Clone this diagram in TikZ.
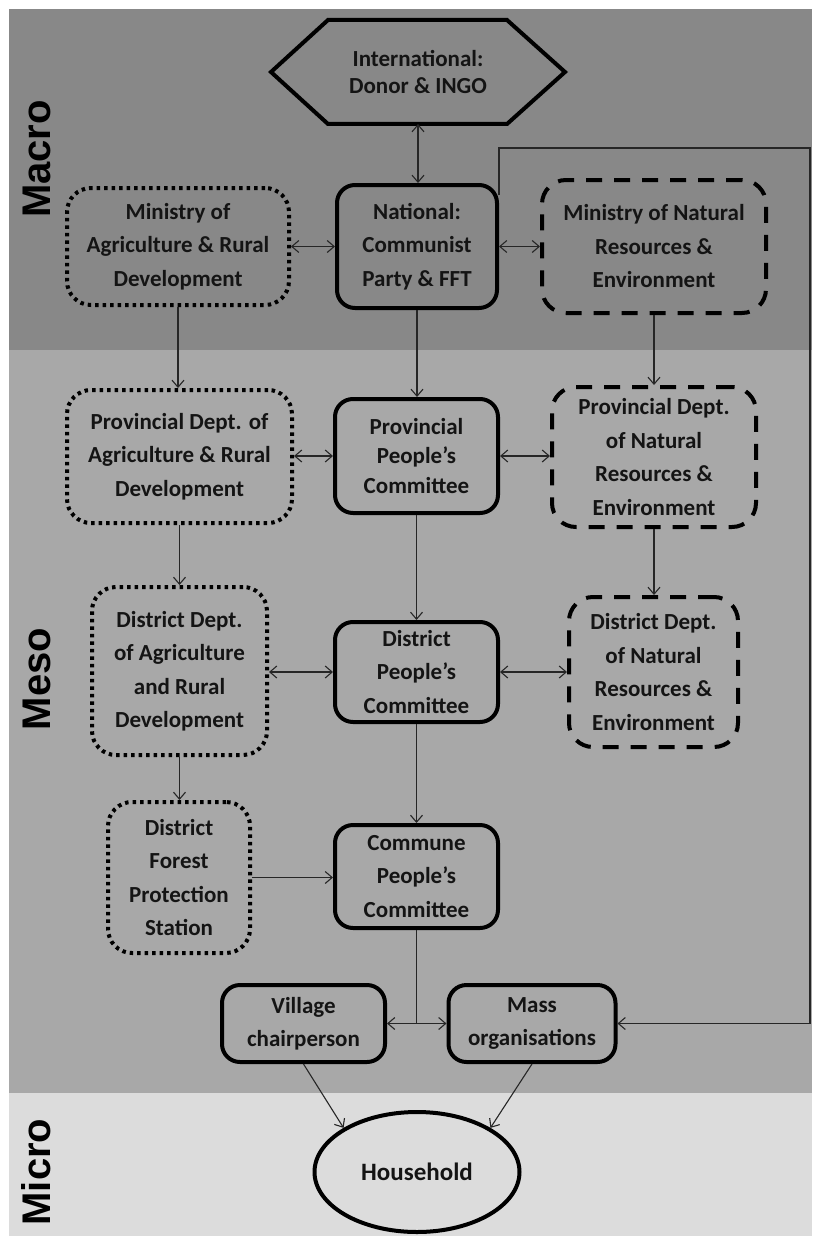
\documentclass[tikz,border=0pt]{standalone}
\usepackage{fontspec}
\setmainfont{Carlito}
\newfontfamily\labfont{Liberation Sans}
\usetikzlibrary{arrows.meta,calc,shapes.geometric}
\definecolor{macrobg}{RGB}{136,136,136}
\definecolor{mesobg}{RGB}{168,168,168}
\definecolor{microbg}{RGB}{220,220,220}
\definecolor{ink}{RGB}{20,20,20}
\begin{document}
\begin{tikzpicture}[x=1pt,y=-1pt,
  conn/.style={draw=black!85, line width=1.1pt},
  arr/.style={conn,-{Straight Barb[length=7pt,width=12pt]}},
  darr/.style={conn,{Straight Barb[length=7pt,width=12pt]}-{Straight Barb[length=7pt,width=12pt]}},
  box/.style={draw=black, line width=4pt, rounded corners=18pt, align=center, inner sep=0pt,
    text=ink, font=\bfseries\fontsize{23}{33.5}\selectfont},
  dotbox/.style={box, dash pattern=on 3.5pt off 4pt, rounded corners=24pt},
  dashbox/.style={box, dash pattern=on 16pt off 12pt, rounded corners=24pt},
  lvl/.style={rotate=90, anchor=base, text=black, font=\labfont\bfseries\fontsize{40}{40}\selectfont},
]
% background bands
\fill[white] (0,0) rectangle (812,1236);
\fill[macrobg] (9,9) rectangle (812,350);
\fill[mesobg] (9,350) rectangle (812,1093);
\fill[microbg] (9,1093) rectangle (812,1236);
\useasboundingbox (0,0) rectangle (812,1236);

% level labels
\node[lvl] (lmacro) at (50,159) {Macro};
\node[lvl] (lmeso) at (50,679) {Meso};
\node[lvl] (lmicro) at (50,1172) {Micro};

% international hexagon
\node[box, draw=none, minimum width=290pt, minimum height=100pt,
  font=\bfseries\fontsize{23}{27}\selectfont] (intl) at (418,72) {International:\\Donor \& INGO};
\draw[line width=4pt, line join=miter]
  (intl.west) -- ($(intl.north west)+(57,0)$) -- ($(intl.north east)+(-58,0)$)
  -- (intl.east) -- ($(intl.south east)+(-58,0)$) -- ($(intl.south west)+(57,0)$) -- cycle;

% macro level
\node[box, minimum width=160pt, minimum height=123pt] (nat) at (417,246.5) {National:\\Communist\\Party \& FFT};
\node[dotbox, minimum width=222pt, minimum height=117pt] (moa) at (178,246.5) {Ministry of\\Agriculture \& Rural\\Development};
\node[dashbox, minimum width=224pt, minimum height=133pt] (monre) at (654,246.5) {Ministry of Natural\\Resources \&\\Environment};

% provincial
\node[dotbox, minimum width=225pt, minimum height=133pt] (pagr) at (179.5,456.5) {Provincial Dept. of\\Agriculture \& Rural\\Development};
\node[box, minimum width=163pt, minimum height=114pt, font=\bfseries\fontsize{23}{29.5}\selectfont] (ppc) at (416.5,456) {Provincial\\People’s\\Committee};
\node[dashbox, minimum width=204pt, minimum height=140pt] (pnr) at (654,457) {Provincial Dept.\\of Natural\\Resources \&\\Environment};

% district
\node[dotbox, minimum width=175pt, minimum height=168pt] (dagr) at (179.5,671) {District Dept.\\of Agriculture\\and Rural\\Development};
\node[box, minimum width=163pt, minimum height=100pt] (dpc) at (416.5,672) {District\\People’s\\Committee};
\node[dashbox, minimum width=169pt, minimum height=150pt] (dnr) at (653.5,672) {District Dept.\\of Natural\\Resources \&\\Environment};

% commune
\node[dotbox, minimum width=142pt, minimum height=151pt] (dfps) at (179,877.5) {District\\Forest\\Protection\\Station};
\node[box, minimum width=163pt, minimum height=103pt] (cpc) at (416.5,876.5) {Commune\\People’s\\Committee};

% village level
\node[box, minimum width=163pt, minimum height=77pt] (vill) at (303.5,1023.5) {Village\\chairperson};
\node[box, minimum width=167pt, minimum height=77pt] (mass) at (532,1023.5) {Mass\\organisations};

% household
\node[ellipse, draw=black, line width=4pt, minimum width=205pt, minimum height=120pt, inner sep=0pt,
  text=ink, font=\bfseries\fontsize{25}{30}\selectfont] (hh) at (417,1172) {Household};

% connectors
\draw[darr] (intl.south) -- (intl.south |- nat.north);
\draw[darr] (moa.east) -- (moa.east -| nat.west);
\draw[darr] (nat.east) -- (nat.east -| monre.west);
\draw[arr] (moa.south) -- (moa.south |- pagr.north);
\draw[arr] (nat.south) -- (nat.south |- ppc.north);
\draw[arr] (monre.south) -- (monre.south |- pnr.north);

\draw[darr] (ppc.west) -- (ppc.west -| pagr.east);
\draw[darr] (ppc.east) -- (ppc.east -| pnr.west);
\draw[arr] (pagr.south) -- (pagr.south |- dagr.north);
\draw[arr] (ppc.south) -- (ppc.south |- dpc.north);
\draw[arr] (pnr.south) -- (pnr.south |- dnr.north);

\draw[darr] (dpc.west) -- (dpc.west -| dagr.east);
\draw[darr] (dpc.east) -- (dpc.east -| dnr.west);
\draw[arr] (dagr.south) -- (dagr.south |- dfps.north);
\draw[arr] (dpc.south) -- (dpc.south |- cpc.north);

\draw[arr] (dfps.east) -- (dfps.east -| cpc.west);

\coordinate (junc) at (cpc.south |- vill.east);
\draw[conn] (cpc.south) -- (junc);
\draw[arr] (junc) -- (vill.east);
\draw[arr] (junc) -- (mass.west);

\coordinate (fbtop) at (810,148);
\draw[arr] ($(nat.north east)+(0,12)$) |- (fbtop) |- (mass.east);

\draw[arr] (vill.south) -- (hh.149);
\draw[arr] (mass.south) -- (hh.31);
\end{tikzpicture}
\end{document}
